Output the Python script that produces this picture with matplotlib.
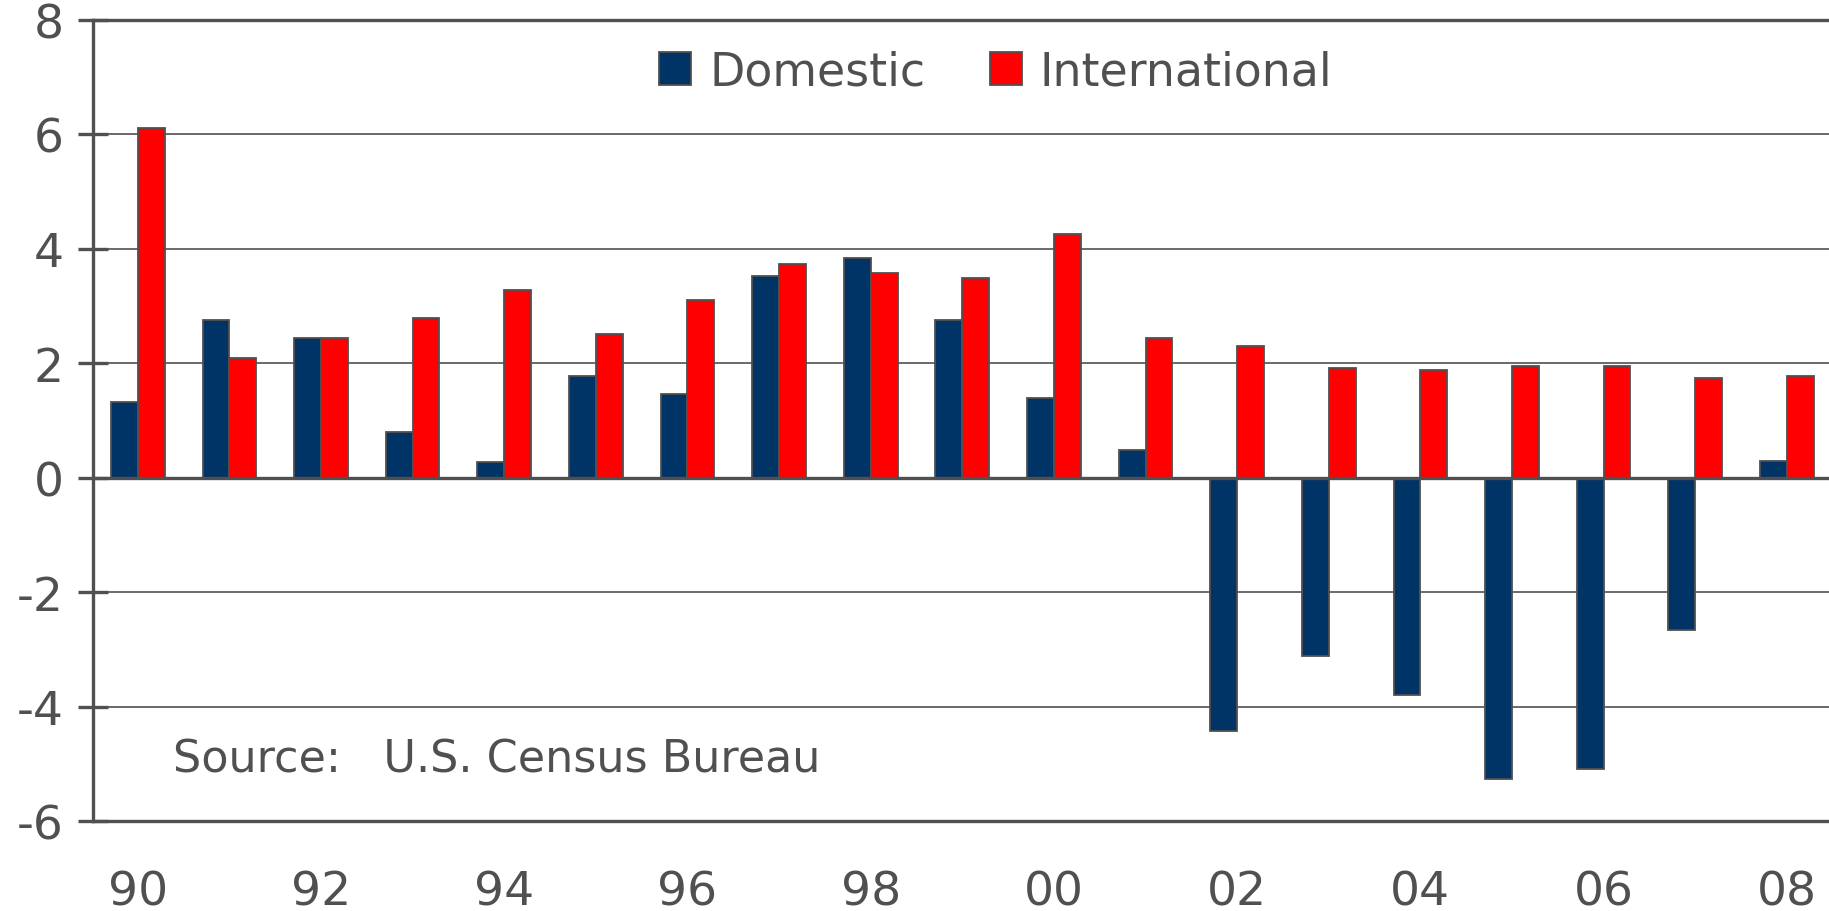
import numpy as np
import matplotlib
matplotlib.use("Agg")
import matplotlib.pyplot as plt

years = ["90", "91", "92", "93", "94", "95", "96", "97", "98", "99",
         "00", "01", "02", "03", "04", "05", "06", "07", "08"]
domestic = [1.32, 2.76, 2.44, 0.79, 0.27, 1.78, 1.46, 3.52, 3.84, 2.76,
            1.39, 0.48, -4.43, -3.12, -3.79, -5.27, -5.09, -2.67, 0.30]
international = [6.12, 2.09, 2.44, 2.79, 3.28, 2.51, 3.11, 3.74, 3.57, 3.49,
                 4.26, 2.44, 2.30, 1.92, 1.88, 1.95, 1.95, 1.74, 1.78]
yticks = [-6, -4, -2, 0, 2, 4, 6, 8]

gray = "#505050"
navy = "#003366"
red = "#ff0000"

plt.rcParams["font.family"] = "DejaVu Sans"

fig = plt.figure(figsize=(18.29, 9.12), dpi=100)
ax = fig.add_axes([0.0508, 0.0987, 0.9492, 0.8783])

x = np.arange(len(years))
w = 0.293
ax.bar(x - w / 2, domestic, w, color=navy, edgecolor=gray, linewidth=1.3,
       label="Domestic", zorder=3)
ax.bar(x + w / 2, international, w, color=red, edgecolor=gray, linewidth=1.3,
       label="International", zorder=3)

ax.set_xlim(-0.49, 18.46)
ax.set_ylim(-6, 8)

# gridlines
for v in [-4, -2, 2, 4, 6]:
    ax.axhline(v, color=gray, lw=1.2, zorder=1)
ax.axhline(0, color=gray, lw=2.4, zorder=4)

ax.spines["right"].set_visible(False)
for s in ["left", "top", "bottom"]:
    ax.spines[s].set_color(gray)
    ax.spines[s].set_linewidth(2.4)

ax.set_yticks(yticks)
ax.set_yticklabels([str(v) for v in yticks])
ax.tick_params(axis="y", direction="inout", length=22, width=2.4, color=gray,
               labelsize=34, labelcolor=gray, pad=10)

ax.set_xticks(x[::2])
ax.set_xticklabels(years[::2])
ax.tick_params(axis="x", length=0, labelsize=34, labelcolor=gray, pad=35)

leg = ax.legend(loc="center", bbox_to_anchor=(0.52, 0.935), ncol=2, frameon=False,
                fontsize=33, handlelength=0.7, handleheight=0.7,
                handletextpad=0.4, columnspacing=1.4, labelcolor=gray)

ax.text(0.046, 0.077, "Source:   U.S. Census Bureau", transform=ax.transAxes,
        fontsize=32, color=gray, va="center", ha="left")

fig.savefig("out.png", dpi=100)
